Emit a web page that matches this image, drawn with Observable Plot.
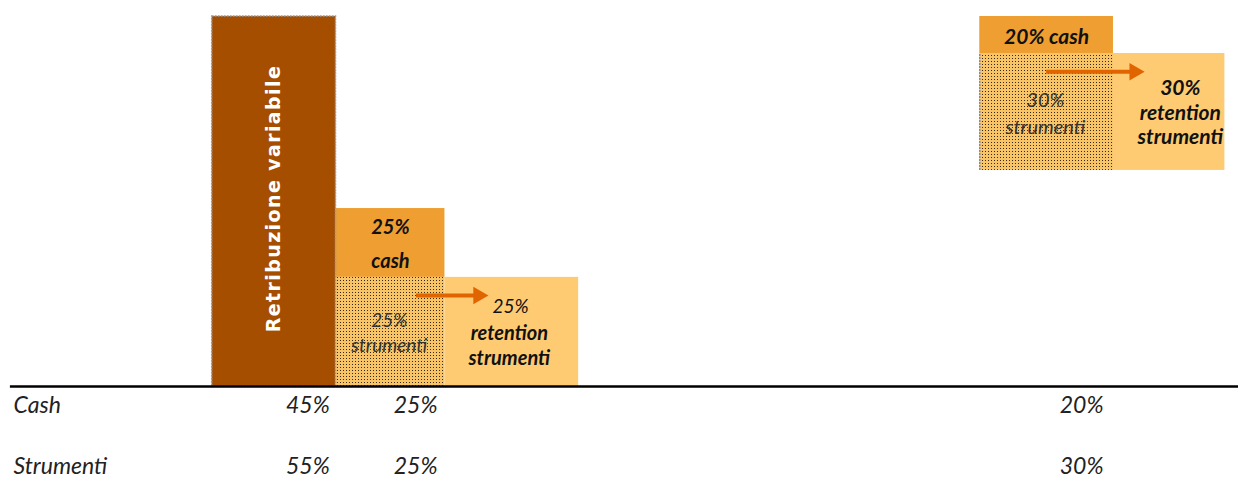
<!DOCTYPE html>
<html><head><meta charset="utf-8">
<script src="https://cdn.jsdelivr.net/npm/d3@7"></script>
<script src="https://cdn.jsdelivr.net/npm/@observablehq/plot@0.6"></script>
<style>body{margin:0;background:#fff;} svg{display:block;}</style>
</head><body><div id="chart"></div>
<script>
// ---- data ----
const rowLabels = ["Cash", "Strumenti"];
const barTitle = "Retribuzione variabile";
const cashPct = [45, 25, 20];        // upfront, differito 1, differito 2
const strumentiPct = [55, 25, 30];
const retentionPct = [25, 30];
const blockWords = {cash: "cash", strumenti: "strumenti", retention: "retention"};

// ---- layout (scale units: x 0..100 across the page; y 100 = top of tallest bar, 0 = baseline) ----
const colX = [[17.1, 27.1], [27.1, 35.9], [79.1, 89.9]];
const retX = [[35.9, 46.7], [89.9, 98.9]];
const colStrY = [[0, 100], [0, 29.5], [58.4, 90]];
const colCashY = [null, [29.5, 48.1], [90, 100]];
const rowY = [-5.1, -21.7];

const C = {bar: "#A64E00", cash: "#EF9F31", ret: "#FECB72", arrow: "#E06500", text: "#111"};
const FONT = "Lato, 'Open Sans', sans-serif";

const rects = [
  {x1: colX[0][0], x2: colX[0][1], y1: colStrY[0][0], y2: colStrY[0][1], fill: C.bar},
  {x1: colX[1][0], x2: colX[1][1], y1: colStrY[1][0], y2: colStrY[1][1], fill: "url(#dots)"},
  {x1: colX[1][0], x2: colX[1][1], y1: colCashY[1][0], y2: colCashY[1][1], fill: C.cash},
  {x1: retX[0][0], x2: retX[0][1], y1: colStrY[1][0], y2: colStrY[1][1], fill: C.ret},
  {x1: colX[2][0], x2: colX[2][1], y1: colStrY[2][0], y2: colStrY[2][1], fill: "url(#dots)"},
  {x1: colX[2][0], x2: colX[2][1], y1: colCashY[2][0], y2: colCashY[2][1], fill: C.cash},
  {x1: retX[1][0], x2: retX[1][1], y1: colStrY[2][0], y2: colStrY[2][1], fill: C.ret}
];

const pct = v => `${v}%`;
const blockTexts = [
  {t: pct(cashPct[1]), x: 31.5, y: 43.0, w: "bold", c: C.text, s: 20},
  {t: blockWords.cash, x: 31.5, y: 33.8, w: "bold", c: C.text, s: 20},
  {t: pct(strumentiPct[1]), x: 31.4, y: 17.8, w: "normal", c: "#333", s: 19},
  {t: blockWords.strumenti, x: 31.4, y: 11.1, w: "normal", c: "#333", s: 19},
  {t: pct(retentionPct[0]), x: 41.2, y: 21.4, w: "normal", c: C.text, s: 19},
  {t: blockWords.retention, x: 41.1, y: 14.3, w: "bold", c: C.text, s: 20},
  {t: blockWords.strumenti, x: 41.1, y: 7.6, w: "bold", c: C.text, s: 20},
  {t: `${pct(cashPct[2])} ${blockWords.cash}`, x: 84.5, y: 94.4, w: "bold", c: C.text, s: 21},
  {t: pct(strumentiPct[2]), x: 84.4, y: 77.3, w: "normal", c: "#333", s: 20},
  {t: blockWords.strumenti, x: 84.4, y: 70.0, w: "normal", c: "#333", s: 20},
  {t: pct(retentionPct[1]), x: 95.3, y: 80.6, w: "bold", c: C.text, s: 21},
  {t: blockWords.retention, x: 95.3, y: 73.9, w: "bold", c: C.text, s: 21},
  {t: blockWords.strumenti, x: 95.3, y: 67.3, w: "bold", c: C.text, s: 21}
];
const boldTexts = blockTexts.filter(d => d.w === "bold");
const normalTexts = blockTexts.filter(d => d.w !== "bold");

const arrows = [
  {x1: 33.6, x2: 38.6, tip: 39.3, y: 24.6},
  {x1: 84.5, x2: 91.6, tip: 92.3, y: 85.1}
];

const valueX = [26.6, 35.3, 89.1];
const table = [];
rowLabels.forEach((r, i) => {
  const vals = i === 0 ? cashPct : strumentiPct;
  vals.forEach((v, j) => table.push({t: pct(v), x: valueX[j], y: rowY[i]}));
});
const rowLabelData = rowLabels.map((r, i) => ({t: r, x: 1.05, y: rowY[i]}));

const svg = Plot.plot({
  width: 1238, height: 478,
  marginLeft: 0, marginRight: 0, marginTop: 16, marginBottom: 0,
  x: {domain: [0, 100], axis: null},
  y: {domain: [-24.86, 100], axis: null},
  style: {fontFamily: FONT, background: "#fff"},
  marks: [
    Plot.rect(rects, {x1: "x1", x2: "x2", y1: "y1", y2: "y2", fill: d => d.fill}),
    Plot.rect([rects[0]], {x1: "x1", x2: "x2", y1: "y1", y2: "y2", fill: "none", stroke: "#9a9a9a", strokeWidth: 1.5, strokeDasharray: "2,1"}),
    Plot.ruleX([colX[2][0]], {y1: colStrY[2][0], y2: colStrY[2][1], stroke: "#8a8a9a", strokeWidth: 1.5, strokeDasharray: "2,1"}),
    Plot.ruleY([0], {x1: 0.8, x2: 100, stroke: "#000", strokeWidth: 2.5}),
    Plot.text([barTitle], {x: (colX[0][0] + colX[0][1]) / 2, y: 50.8, text: d => d, rotate: -90, fill: "#fff", fontWeight: "bold", fontSize: 19, fontFamily: "'DejaVu Sans', sans-serif"}),
    Plot.text(boldTexts, {x: "x", y: "y", text: "t", fill: d => d.c, fontWeight: "bold", fontStyle: "italic", fontSize: d => d.s}),
    Plot.text(normalTexts, {x: "x", y: "y", text: "t", fill: d => d.c, fontWeight: "normal", fontStyle: "italic", fontSize: d => d.s}),
    Plot.ruleY(arrows, {x1: "x1", x2: "x2", y: "y", stroke: C.arrow, strokeWidth: 4}),
    Plot.dot(arrows, {x: d => d.tip - 0.7, y: "y", symbol: "triangle", r: 6.5, rotate: 90, fill: C.arrow, stroke: "none"}),
    Plot.text(rowLabelData, {x: "x", y: "y", text: "t", textAnchor: "start", fontStyle: "italic", fontSize: 23, fill: "#222"}),
    Plot.text(table, {x: "x", y: "y", text: "t", textAnchor: "end", fontStyle: "italic", fontSize: 23, fill: "#222"})
  ]
});
// letter spacing for the rotated bar title (Plot has no option for it)
d3.select(svg).selectAll("text").filter(function() { return this.textContent === barTitle; })
  .style("letter-spacing", "1.4px");
const defs = document.createElementNS("http://www.w3.org/2000/svg", "defs");
defs.innerHTML = `<pattern id="dots" width="3" height="3" patternUnits="userSpaceOnUse">
  <rect width="3" height="3" fill="#F8C468"/>
  <rect x="1" y="1" width="1" height="1" fill="#3a2a10" shape-rendering="crispEdges"/>
</pattern>`;
svg.insertBefore(defs, svg.firstChild);
document.getElementById("chart").appendChild(svg);
</script>
</body></html>
